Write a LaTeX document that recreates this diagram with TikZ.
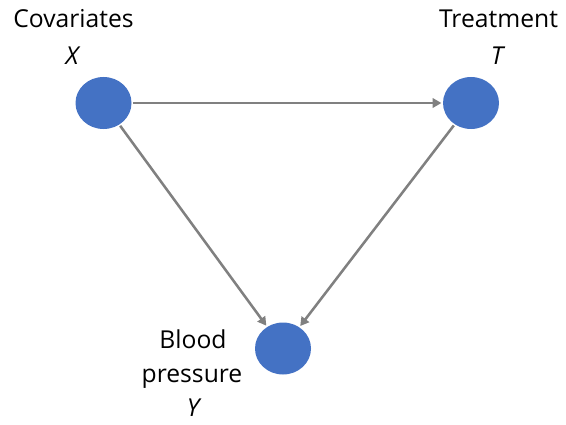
\documentclass[tikz,border=0pt]{standalone}
\usepackage{fontspec}
\setmainfont{Open Sans}
\usetikzlibrary{arrows.meta,shapes.geometric}
\definecolor{nodeblue}{HTML}{4472C4}
\definecolor{edgegray}{HTML}{808080}
\begin{document}
\begin{tikzpicture}[x=0.75pt,y=-0.75pt,
  var/.style={ellipse,fill=nodeblue,minimum width=42pt,minimum height=39pt,inner sep=0pt},
  lbl/.style={font=\fontsize{18.5}{22}\selectfont,inner sep=0pt,anchor=base},
  edge/.style={draw=edgegray,line width=1.9pt,-{Triangle[length=6.5pt,width=7pt]},shorten >=1pt,shorten <=1pt}]
\useasboundingbox (0,0) rectangle (566,424);
\node[var] (X) at (103.5,103) {};
\node[var] (T) at (471,103) {};
\node[var] (Y) at (283,348.5) {};
\node[lbl] (lc) at (73.5,28) {Covariates};
\node[lbl] (lx) at (72,65) {\itshape X};
\node[lbl] (lt) at (498.5,28) {Treatment};
\node[lbl] (ltt) at (497,65) {\itshape T};
\node[lbl] (lb) at (193,348) {Blood};
\node[lbl] (lp) at (192,382) {pressure};
\node[lbl] (ly) at (193,416) {\itshape Y};
\draw[edge] (X) -- (T);
\draw[edge] (X) -- (Y);
\draw[edge] (T) -- (Y);
\end{tikzpicture}
\end{document}
